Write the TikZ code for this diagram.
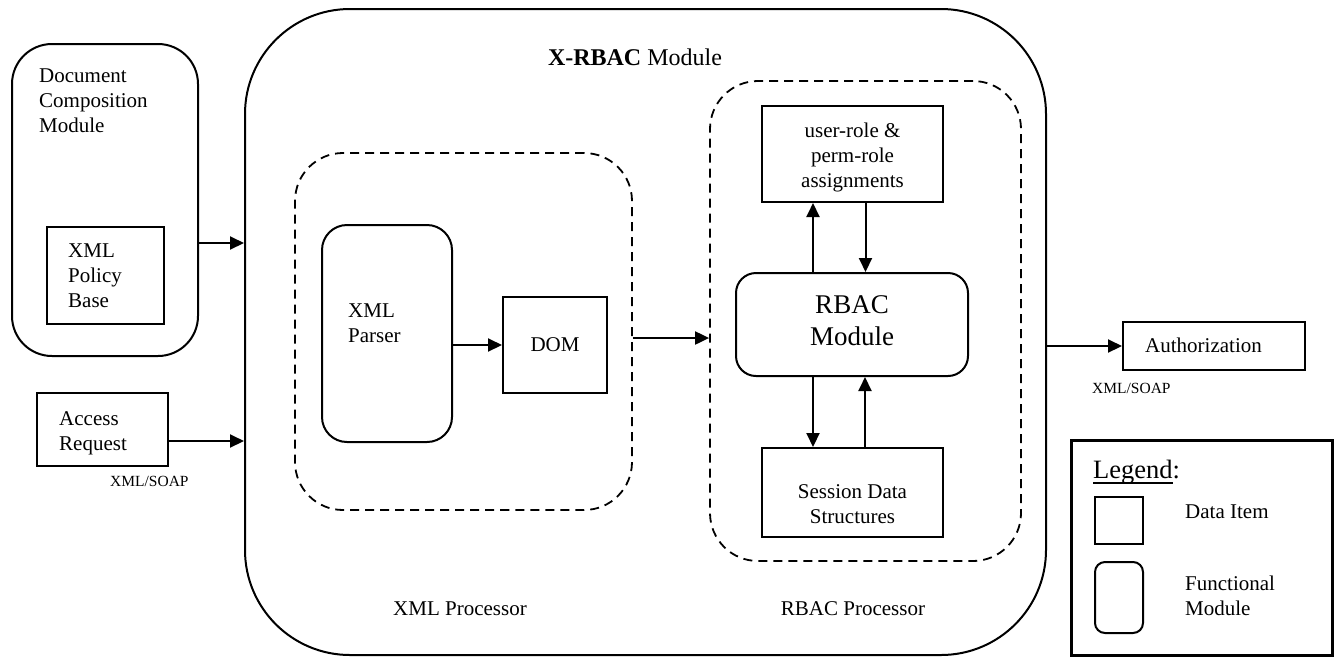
\documentclass[tikz,border=0pt]{standalone}
\usepackage{fontspec}
\setmainfont{Liberation Serif}
\usetikzlibrary{arrows.meta}
\begin{document}
\begin{tikzpicture}[x=1pt,y=-1pt,
  box/.style={draw, line width=2pt, rectangle, inner sep=0},
  func/.style={draw, line width=2pt, rectangle, rounded corners=#1, inner sep=0},
  func/.default=20pt,
  proc/.style={draw, line width=1.8pt, dash pattern=on 9pt off 6pt, rectangle, rounded corners=48pt, inner sep=0},
  arr/.style={line width=2pt, -{Triangle[length=14pt,width=13pt]}},
  txt/.style={inner sep=0, font=\fontsize{21}{25}\selectfont},
  small/.style={inner sep=0, font=\fontsize{15.5}{18}\selectfont},
]
\useasboundingbox (0,0) rectangle (1335,657);

% shapes
\node[func=105pt, minimum width=801pt, minimum height=646pt] (xrbac) at (645.5,332) {};
\node[func=40pt, minimum width=186pt, minimum height=312pt] (dcm) at (105,200) {};
\node[box, minimum width=117pt, minimum height=97pt] (xpb) at (105.5,275.5) {};
\node[box, minimum width=131pt, minimum height=73pt] (ar) at (102.5,429.5) {};
\node[proc, minimum width=337pt, minimum height=357pt] (xmlp) at (463.5,331.5) {};
\node[proc, minimum width=311pt, minimum height=480pt] (rbacp) at (865.5,321) {};
\node[func=25pt, minimum width=130pt, minimum height=217pt] (parser) at (387,333.5) {};
\node[box, minimum width=104pt, minimum height=96pt, txt] (dom) at (555,345) {DOM};
\node[box, minimum width=181pt, minimum height=96pt] (ur) at (852.5,154) {};
\node[func=20pt, minimum width=232pt, minimum height=103pt] (rbac) at (852,324.5) {};
\node[box, minimum width=181pt, minimum height=89pt] (sds) at (852.5,492.5) {};
\node[box, minimum width=182pt, minimum height=48pt] (auth) at (1214,346) {};
\node[box, line width=3pt, minimum width=261pt, minimum height=215pt] (legend) at (1201.5,547.5) {};
\node[box, minimum width=48pt, minimum height=47pt] (lgdata) at (1119,520.5) {};
\node[func=10pt, minimum width=48pt, minimum height=71pt] (lgfunc) at (1119,597.5) {};

% texts
\node[inner sep=0, anchor=base, font=\fontsize{24}{28}\selectfont] (title) at (635,65) {\textbf{X-RBAC} Module};
\node[txt, anchor=north west, align=left] (dcmt) at (39,69) {Document\\Composition\\Module};
\node[txt, anchor=north west, align=left] (xpbt) at (68,244) {XML\\Policy\\Base};
\node[txt, anchor=north west, align=left] (art) at (59,411) {Access\\Request};
\node[small, anchor=base west] (soap1) at (110,486) {XML/SOAP};
\node[txt, anchor=north west, align=left] (parsert) at (348,304) {XML\\Parser};
\node[txt, anchor=north, align=center] (urt) at (852.5,123) {user-role \&\\perm-role\\assignments};
\node[inner sep=0, anchor=north, align=center, font=\fontsize{27}{32}\selectfont] (rbact) at (852,295) {RBAC\\Module};
\node[txt, anchor=north, align=center] (sdst) at (852.5,484) {Session Data\\Structures};
\node[txt, anchor=base] (xmlpt) at (460,615) {XML Processor};
\node[txt, anchor=base] (rbacpt) at (853,615) {RBAC Processor};
\node[txt, anchor=base west] (autht) at (1145,352) {Authorization};
\node[small, anchor=base west] (soap2) at (1092,393) {XML/SOAP};
\node[inner sep=0, anchor=base west, font=\fontsize{26.5}{30}\selectfont] (legendt) at (1093,478)
  {\setbox0\hbox{Legend}\rlap{\rule[-5.5pt]{\wd0}{1.5pt}}\box0:};
\node[txt, anchor=base west] (lgdatat) at (1185,518) {Data Item};
\node[txt, anchor=north west, align=left] (lgfunct) at (1185,576) {Functional\\Module};

% connectors
\coordinate (dcmout) at ([yshift=-43pt]dcm.east);
\draw[arr] (dcmout) -- (dcmout -| xrbac.west);
\coordinate (arout) at ([yshift=-11.5pt]ar.east);
\draw[arr] (arout) -- (arout -| xrbac.west);
\draw[arr] (parser.east |- dom.west) -- (dom.west);
\coordinate (xpout) at ([yshift=-6.5pt]xmlp.east);
\draw[arr] (xpout) -- (xpout -| rbacp.west);
\coordinate (c1) at ([xshift=-39pt]rbac.north);
\draw[arr] (c1) -- (c1 |- ur.south);
\coordinate (c2) at ([xshift=13pt]ur.south);
\draw[arr] (c2) -- (c2 |- rbac.north);
\coordinate (c3) at ([xshift=-39pt]rbac.south);
\draw[arr] (c3) -- (c3 |- sds.north);
\coordinate (c4) at ([xshift=12.5pt]sds.north);
\draw[arr] (c4) -- (c4 |- rbac.south);
\draw[arr] (xrbac.east |- auth.west) -- (auth.west);
\end{tikzpicture}
\end{document}
